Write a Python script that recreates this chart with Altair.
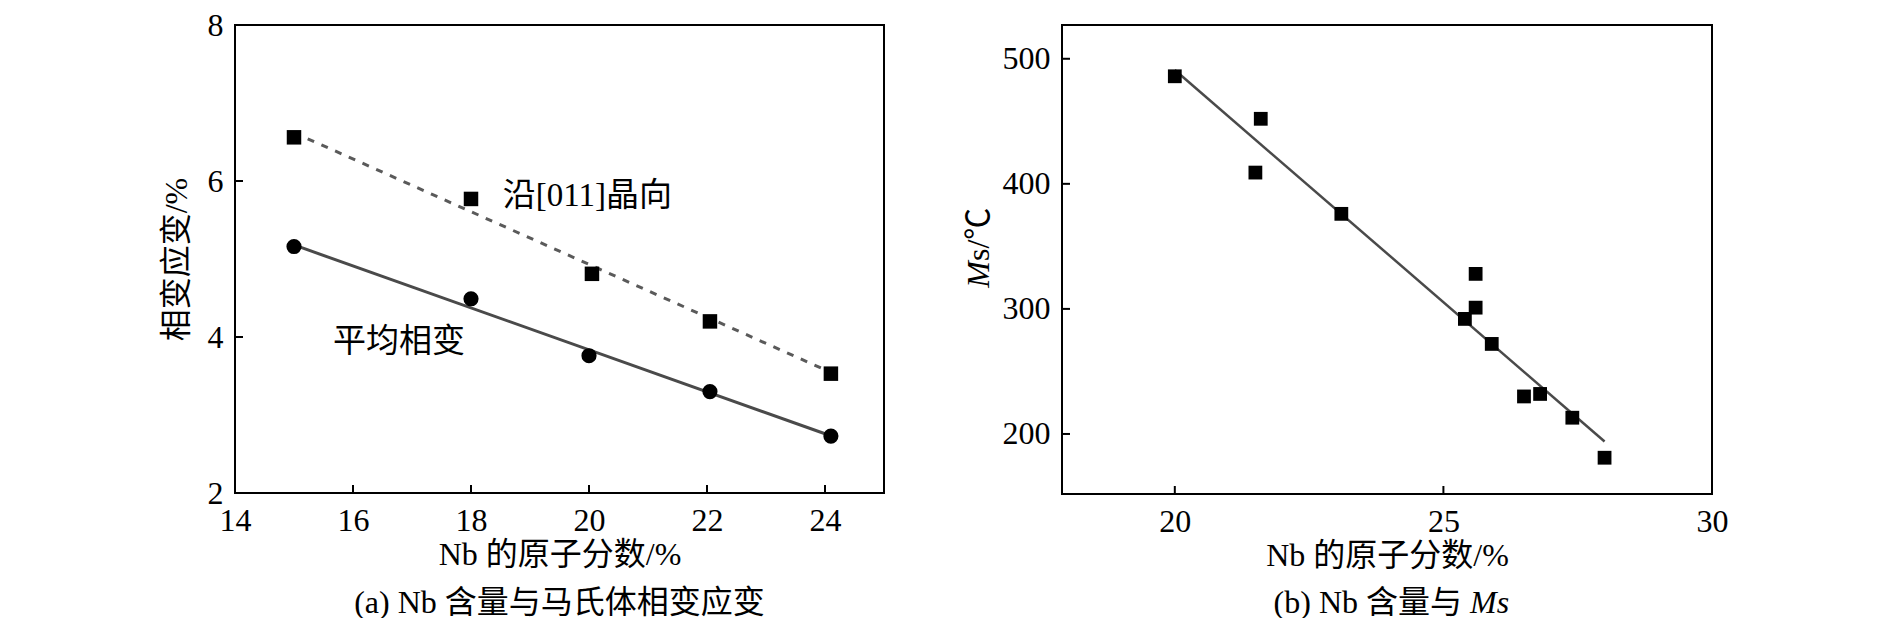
import altair as alt
import pandas as pd

FONT = "Liberation Serif, Noto Sans CJK SC"

# ---------- Panel (a) data ----------
a_nb = [15.0, 18.0, 20.05, 22.05, 24.1]
a_orient = [6.56, 5.77, 4.81, 4.20, 3.53]        # 沿[011]晶向 (squares)
a_nb_avg = [15.0, 18.0, 20.0, 22.05, 24.1]
a_avg = [5.16, 4.49, 3.76, 3.30, 2.73]           # 平均相变 (circles)
a_fit_x = [15.0, 24.0]
a_fit_orient = [6.62, 3.58]
a_fit_avg = [5.18, 2.76]
a_xticks = [14, 16, 18, 20, 22, 24]
a_yticks = [2, 4, 6, 8]
a_labels = ["沿[011]晶向", "平均相变"]
a_label_x = [18.54, 15.66]
a_label_y = [5.81, 3.93]

# ---------- Panel (b) data ----------
b_nb = [20.0, 21.6, 21.5, 23.1, 25.6, 25.6, 25.4, 25.9, 26.5, 26.8, 27.4, 28.0]
b_ms = [486, 452, 409, 376, 328, 301, 292, 272, 230, 232, 213, 181]
b_fit_x = [20.0, 28.0]
b_fit_ms = [491, 194]
b_xticks = [20, 25, 30]
b_yticks = [200, 300, 400, 500]

W, H = 649, 468
TICK = 8
TFS = 32  # title / caption font size
CAP = 110  # caption offset below plot


def axis(values, title, title_pad, **kw):
    return alt.Axis(values=values, title=title, ticks=False, domain=False,
                    grid=False, labelFlush=False, labelPadding=12,
                    labelFont=FONT, labelFontSize=32, labelColor="black",
                    titleFont=FONT, titleFontSize=TFS, titleFontWeight="normal",
                    titleColor="black", titlePadding=title_pad, **kw)


# ---------------- Panel (a) ----------------
xa_scale = alt.Scale(domain=[14, 25], nice=False, zero=False)
ya_scale = alt.Scale(domain=[2, 8], nice=False, zero=False)
XA = alt.X("x:Q", scale=xa_scale, axis=axis(a_xticks, "Nb 的原子分数/%", 3))
YA = alt.Y("y:Q", scale=ya_scale, axis=axis(a_yticks, "相变应变/%", 14))

fit_o = alt.Chart(pd.DataFrame({"x": a_fit_x, "y": a_fit_orient})).mark_line(
    color="#5a5a5a", strokeWidth=3, strokeDash=[7, 8]).encode(x=XA, y=YA)
fit_a = alt.Chart(pd.DataFrame({"x": a_fit_x, "y": a_fit_avg})).mark_line(
    color="#4a4a4a", strokeWidth=3).encode(x=XA, y=YA)
sq_a = alt.Chart(pd.DataFrame({"x": a_nb, "y": a_orient})).mark_square(
    size=210, color="black", opacity=1).encode(x=XA, y=YA)
ci_a = alt.Chart(pd.DataFrame({"x": a_nb_avg, "y": a_avg})).mark_circle(
    size=230, color="black", opacity=1).encode(x=XA, y=YA)
lab_a = alt.Chart(pd.DataFrame({"x": a_label_x, "y": a_label_y, "t": a_labels})).mark_text(
    font=FONT, fontSize=33, align="left", baseline="middle", color="black").encode(
    x=XA, y=YA, text="t:N")
tx_a = alt.Chart(pd.DataFrame({"x": a_xticks})).mark_rule(color="black", strokeWidth=2).encode(
    x=XA, y=alt.value(H), y2=alt.value(H - TICK))
ty_a = alt.Chart(pd.DataFrame({"y": a_yticks})).mark_rule(color="black", strokeWidth=2).encode(
    y=YA, x=alt.value(0), x2=alt.value(TICK))
cap_a = alt.Chart(alt.Data(values=[{}])).mark_text(
    font=FONT, fontSize=TFS, align="center", baseline="middle", color="black").encode(
    x=alt.value(W / 2), y=alt.value(H + CAP), text=alt.value("(a) Nb 含量与马氏体相变应变"))

left = alt.layer(fit_o, fit_a, sq_a, ci_a, lab_a, tx_a, ty_a, cap_a).properties(width=W, height=H)

# ---------------- Panel (b) ----------------
xb_scale = alt.Scale(domain=[17.9, 30], nice=False, zero=False)
yb_scale = alt.Scale(domain=[152, 527], nice=False, zero=False)
XB = alt.X("x:Q", scale=xb_scale, axis=axis(b_xticks, "Nb 的原子分数/%", 3))
YB = alt.Y("y:Q", scale=yb_scale, axis=axis(b_yticks, None, 0))

fit_b = alt.Chart(pd.DataFrame({"x": b_fit_x, "y": b_fit_ms})).mark_line(
    color="#4a4a4a", strokeWidth=2.5).encode(x=XB, y=YB)
sq_b = alt.Chart(pd.DataFrame({"x": b_nb, "y": b_ms})).mark_square(
    size=190, color="black", opacity=1).encode(x=XB, y=YB)
tx_b = alt.Chart(pd.DataFrame({"x": b_xticks})).mark_rule(color="black", strokeWidth=2).encode(
    x=XB, y=alt.value(H + 1), y2=alt.value(H + 1 - TICK))
ty_b = alt.Chart(pd.DataFrame({"y": b_yticks})).mark_rule(color="black", strokeWidth=2).encode(
    y=YB, x=alt.value(0), x2=alt.value(TICK))
ms_m = alt.Chart(alt.Data(values=[{}])).mark_text(
    font=FONT, fontSize=TFS, fontStyle="italic", angle=270, align="right",
    baseline="middle", color="black").encode(
    x=alt.value(-83), y=alt.value(236), text=alt.value("M"))
ms_rest = alt.Chart(alt.Data(values=[{}])).mark_text(
    font=FONT, fontSize=TFS, angle=270, align="left",
    baseline="middle", color="black").encode(
    x=alt.value(-83), y=alt.value(236), text=alt.value("s/℃"))
cap_b1 = alt.Chart(alt.Data(values=[{}])).mark_text(
    font=FONT, fontSize=TFS, align="right", baseline="middle", color="black").encode(
    x=alt.value(400), y=alt.value(H + CAP), text=alt.value("(b) Nb 含量与"))
cap_b2 = alt.Chart(alt.Data(values=[{}])).mark_text(
    font=FONT, fontSize=TFS, fontStyle="italic", align="left", baseline="middle",
    color="black").encode(
    x=alt.value(408), y=alt.value(H + CAP), text=alt.value("Ms"))

right = alt.layer(fit_b, sq_b, tx_b, ty_b, ms_m, ms_rest, cap_b1, cap_b2).properties(
    width=650, height=H + 1)

chart = alt.hconcat(left, right, spacing=77).properties(
    padding={"left": 151, "top": 0, "right": 5, "bottom": 0},
    background="white",
).configure_view(stroke="black", strokeWidth=2)

chart.save("out.html", embed_options={"renderer": "svg", "actions": False})
